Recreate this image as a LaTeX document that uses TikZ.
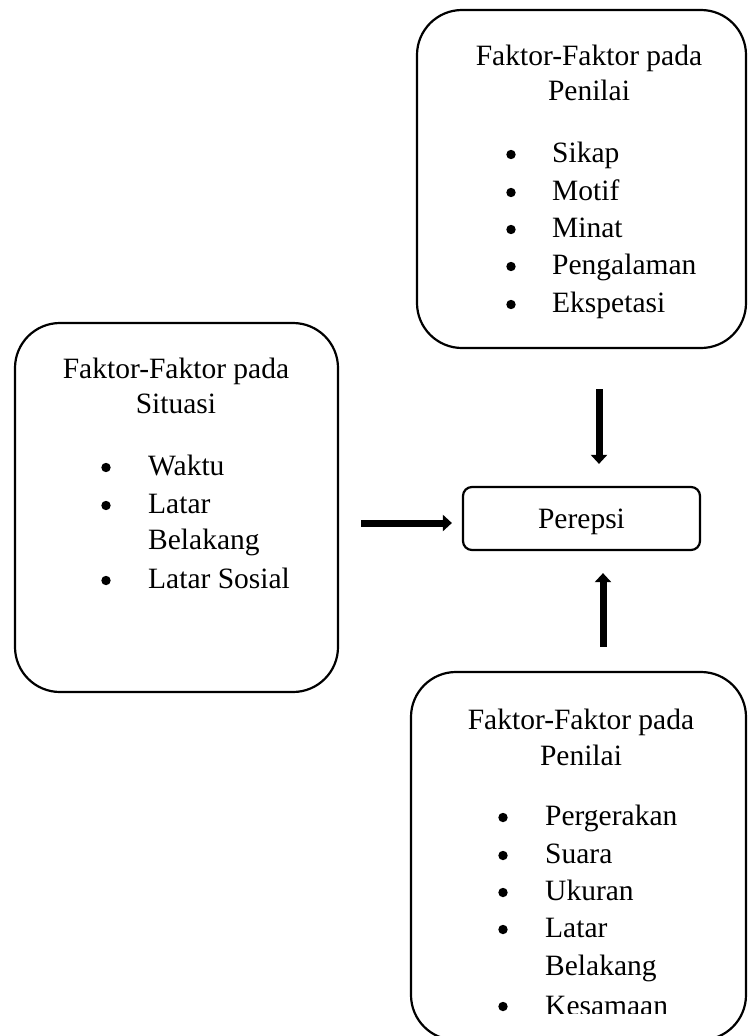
\documentclass[tikz,border=0pt]{standalone}
\usepackage{fontspec}
\setmainfont{Liberation Serif}
\usetikzlibrary{positioning, arrows.meta}

\begin{document}
\begin{tikzpicture}[
    x=1pt, y=-1pt,
    factor/.style={rectangle, draw=black, line width=2.2pt, rounded corners=45pt, inner sep=0pt},
    hasil/.style={rectangle, draw=black, line width=2.2pt, rounded corners=9pt, inner sep=0pt, text depth=0pt,
                  minimum width=237pt, minimum height=63pt, font=\fontsize{29.5}{35}\selectfont},
    judul/.style={anchor=base, inner sep=0pt, font=\fontsize{29.5}{35}\selectfont},
    dot/.style={circle, fill=black, inner sep=0pt, minimum size=9.4pt},
    item/.style={anchor=base west, inner sep=0pt, font=\fontsize{29.5}{35}\selectfont},
    arrow/.style={-{Triangle[length=9pt, width=16pt]}, line width=7pt}
]

    \useasboundingbox (0,0) rectangle (747,1036);
    \clip (0,0) rectangle (747,1036);

    % Top box
    \node[factor, minimum width=329pt, minimum height=338pt] (penilai) at (581.5,179) {};
    \node[judul] (penilaiA) at (589,65) {Faktor-Faktor pada};
    \node[judul] (penilaiB) at (589,100) {Penilai};
    \node[dot] (d1) at (511,154.5) {};
    \node[item] (sikap) at (552,162) {Sikap};
    \node[dot] (d2) at (511,192.5) {};
    \node[item] (motif) at (552,200) {Motif};
    \node[dot] (d3) at (511,229.5) {};
    \node[item] (minat) at (552,237) {Minat};
    \node[dot] (d4) at (511,266.5) {};
    \node[item] (pengalaman) at (552,274) {Pengalaman};
    \node[dot] (d5) at (511,304.5) {};
    \node[item] (ekspetasi) at (552,312) {Ekspetasi};

    % Left box
    \node[factor, minimum width=323pt, minimum height=369pt] (situasi) at (176.5,507.5) {};
    \node[judul] (situasiA) at (176,378) {Faktor-Faktor pada};
    \node[judul] (situasiB) at (176,413) {Situasi};
    \node[dot] (e1) at (106,467.5) {};
    \node[item] (waktu) at (148,475) {Waktu};
    \node[dot] (e2) at (106,505.5) {};
    \node[item] (latar) at (148,513) {Latar};
    \node[item] (belakang) at (148,549) {Belakang};
    \node[dot] (e3) at (106,580.5) {};
    \node[item] (sosial) at (148,588) {Latar Sosial};

    % Middle box
    \node[hasil] (persepsi) at (581.5,518.5) {Perepsi};

    % Bottom box
    \node[factor, minimum width=335pt, minimum height=368pt] (stimulus) at (578.5,856) {};
    \begin{scope}
        \clip (0,0) rectangle (747,1013);
        \node[judul] (stimulusA) at (581,729) {Faktor-Faktor pada};
        \node[judul] (stimulusB) at (581,765) {Penilai};
        \node[dot] (f1) at (503,817.5) {};
        \node[item] (gerak) at (545,825) {Pergerakan};
        \node[dot] (f2) at (503,855.5) {};
        \node[item] (suara) at (545,863) {Suara};
        \node[dot] (f3) at (503,892.5) {};
        \node[item] (ukuran) at (545,900) {Ukuran};
        \node[dot] (f4) at (503,929.5) {};
        \node[item] (latarB) at (545,937) {Latar};
        \node[item] (belakangB) at (545,975) {Belakang};
        \node[dot] (f5) at (503,1006.5) {};
        \node[item] (kesamaan) at (545,1015) {Kesamaan};
    \end{scope}

    % Arrows
    \draw[arrow] ([xshift=17.5pt, yshift=-40pt]penilai.south) -- ([xshift=17.5pt, yshift=22pt]persepsi.north);
    \draw[arrow] ([xshift=24.5pt, yshift=24pt]stimulus.north) -- ([xshift=21.5pt, yshift=-22pt]persepsi.south);
    \draw[arrow] ([xshift=22pt, yshift=-15.5pt]situasi.east) -- ([xshift=-10pt, yshift=-4.5pt]persepsi.west);

\end{tikzpicture}
\end{document}
